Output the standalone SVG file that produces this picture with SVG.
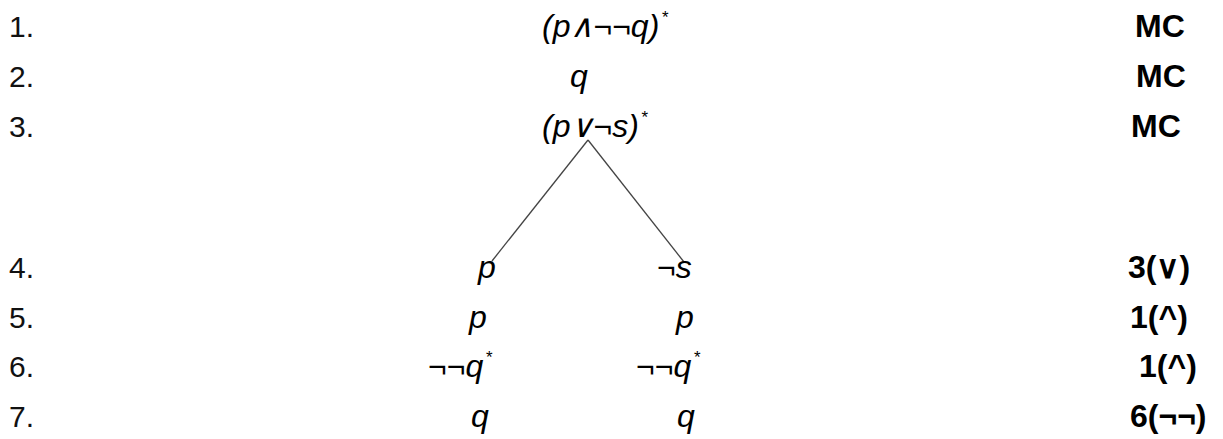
<svg xmlns="http://www.w3.org/2000/svg" width="1223" height="439" viewBox="0 0 1223 439">
<style>
text{font-family:"Liberation Sans",Arial,sans-serif;font-size:32px;fill:#000}
.n{font-size:30px;fill:#111}
.f{font-style:italic}
.r{font-weight:bold}
.s{font-size:17px}
line{stroke:#444;stroke-width:1.3}
</style>
<rect width="1223" height="439" fill="#fff"/>
<g id="numbers">
<text class="n" x="9" y="37">1.</text>
<text class="n" x="9" y="87">2.</text>
<text class="n" x="9" y="137">3.</text>
<text class="n" x="9" y="278">4.</text>
<text class="n" x="9" y="328">5.</text>
<text class="n" x="9" y="377">6.</text>
<text class="n" x="9" y="427">7.</text>
</g>
<g id="connectors">
<line x1="588" y1="140" x2="492" y2="261"/>
<line x1="588" y1="140" x2="684" y2="262"/>
</g>
<g id="n1"><text class="f" x="542" y="37">(p∧¬¬q)<tspan class="s" dx="2" dy="-14">*</tspan></text></g>
<g id="n2"><text class="f" x="570" y="87">q</text></g>
<g id="n3"><text class="f" x="542" y="137">(p∨¬s)<tspan class="s" dx="2" dy="-14">*</tspan></text></g>
<g id="n4l"><text class="f" x="478" y="278">p</text></g>
<g id="n4r"><text class="f" x="657" y="278">¬s</text></g>
<g id="n5l"><text class="f" x="469" y="328">p</text></g>
<g id="n5r"><text class="f" x="676" y="328">p</text></g>
<g id="n6l"><text class="f" x="428" y="377">¬¬q<tspan class="s" dx="2" dy="-14">*</tspan></text></g>
<g id="n6r"><text class="f" x="636" y="377">¬¬q<tspan class="s" dx="2" dy="-14">*</tspan></text></g>
<g id="n7l"><text class="f" x="471" y="427">q</text></g>
<g id="n7r"><text class="f" x="677" y="427">q</text></g>
<g id="rules">
<text class="r" x="1135" y="37">MC</text>
<text class="r" x="1136" y="87">MC</text>
<text class="r" x="1131" y="137">MC</text>
<text class="r" x="1128" y="278">3(∨)</text>
<text class="r" x="1130" y="328">1(^)</text>
<text class="r" x="1139" y="377">1(^)</text>
<text class="r" x="1130" y="427">6(¬¬)</text>
</g>
</svg>
